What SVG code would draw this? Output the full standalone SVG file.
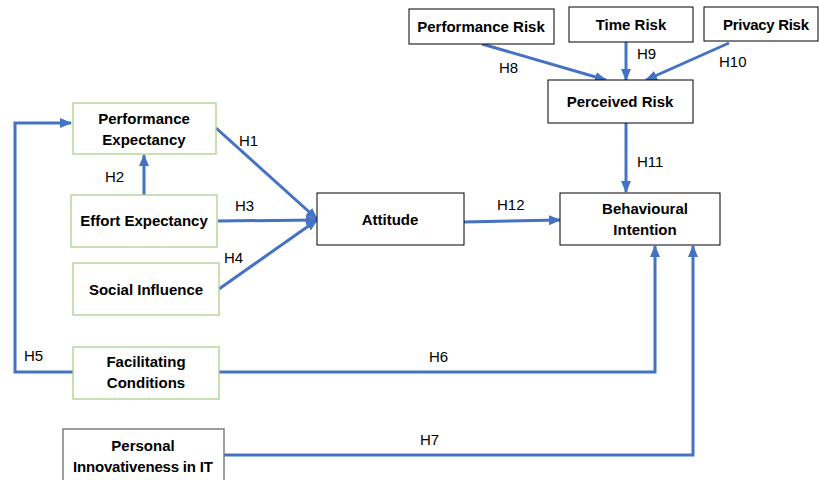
<svg xmlns="http://www.w3.org/2000/svg" width="819" height="480" viewBox="0 0 819 480">
<style>
.box{fill:#fff;stroke:#000;stroke-width:1}
.gbox{fill:#fff;stroke:#a9d18e;stroke-width:1.3}
.grbox{fill:#fff;stroke:#7f7f7f;stroke-width:1.5}
.t{font-family:"Liberation Sans",Arial,sans-serif;font-weight:bold;font-size:15px;fill:#000;text-anchor:middle}
.lbl{font-family:"Liberation Sans",Arial,sans-serif;font-size:15px;fill:#000}
.c{fill:none;stroke:#4472c4;stroke-width:3;marker-end:url(#ah)}
</style>
<defs>
<marker id="ah" markerUnits="userSpaceOnUse" markerWidth="12" markerHeight="12" viewBox="0 0 12 12" refX="11" refY="6" orient="auto">
<path d="M0,1 L12,6 L0,11 Z" fill="#4472c4"/>
</marker>
</defs>
<rect width="819" height="480" fill="#fff"/>
<g id="connectors">
<line class="c" x1="482" y1="44" x2="606" y2="80"/>
<line class="c" x1="626" y1="42" x2="626" y2="80"/>
<line class="c" x1="729" y1="43" x2="646" y2="80"/>
<line class="c" x1="626" y1="123" x2="626" y2="192"/>
<line class="c" x1="144" y1="195" x2="144" y2="155"/>
<line class="c" x1="216" y1="128" x2="317" y2="219"/>
<line class="c" x1="218" y1="221" x2="317" y2="220"/>
<line class="c" x1="219" y1="289" x2="317" y2="220"/>
<line class="c" x1="464" y1="222" x2="560" y2="220"/>
<polyline class="c" points="73,372 15,372 15,123 71,123"/>
<polyline class="c" points="219,372 655,372 655,246"/>
<polyline class="c" points="224,455 693,455 693,246"/>
<text class="lbl" x="499" y="73">H8</text>
<text class="lbl" x="637" y="59">H9</text>
<text class="lbl" x="719" y="67">H10</text>
<text class="lbl" x="637" y="167">H11</text>
<text class="lbl" x="105" y="182">H2</text>
<text class="lbl" x="239" y="146">H1</text>
<text class="lbl" x="235" y="211">H3</text>
<text class="lbl" x="224" y="263">H4</text>
<text class="lbl" x="497" y="210">H12</text>
<text class="lbl" x="24" y="361">H5</text>
<text class="lbl" x="429" y="362">H6</text>
<text class="lbl" x="420" y="445">H7</text>
</g>
<g id="performance-risk"><rect class="box" x="409" y="9" width="145" height="35"/><text class="t" x="481" y="32">Performance Risk</text></g>
<g id="time-risk"><rect class="box" x="569" y="7" width="124" height="35"/><text class="t" x="631" y="30">Time Risk</text></g>
<g id="privacy-risk"><rect class="box" x="704" y="7" width="114" height="34"/><text class="t" x="766" y="30" textLength="86">Privacy Risk</text></g>
<g id="perceived-risk"><rect class="box" x="548" y="80" width="145" height="43"/><text class="t" x="620" y="107">Perceived Risk</text></g>
<g id="performance-expectancy"><rect class="gbox" x="73" y="103" width="143" height="51"/><text class="t" x="144" y="124">Performance</text><text class="t" x="144" y="145">Expectancy</text></g>
<g id="effort-expectancy"><rect class="gbox" x="71" y="195" width="146" height="52"/><text class="t" x="144" y="226">Effort Expectancy</text></g>
<g id="social-influence"><rect class="gbox" x="73" y="263" width="146" height="52"/><text class="t" x="146" y="295">Social Influence</text></g>
<g id="facilitating-conditions"><rect class="gbox" x="73" y="347" width="146" height="52"/><text class="t" x="146" y="367">Facilitating</text><text class="t" x="146" y="388">Conditions</text></g>
<g id="personal-innovativeness"><rect class="grbox" x="63" y="429" width="161" height="60"/><text class="t" x="143" y="451">Personal</text><text class="t" x="143" y="472" textLength="140">Innovativeness in IT</text></g>
<g id="attitude"><rect class="box" x="317" y="193" width="147" height="52"/><text class="t" x="390" y="225">Attitude</text></g>
<g id="behavioural-intention"><rect class="box" x="560" y="193" width="160" height="52"/><text class="t" x="645" y="214">Behavioural</text><text class="t" x="645" y="235">Intention</text></g>
</svg>
